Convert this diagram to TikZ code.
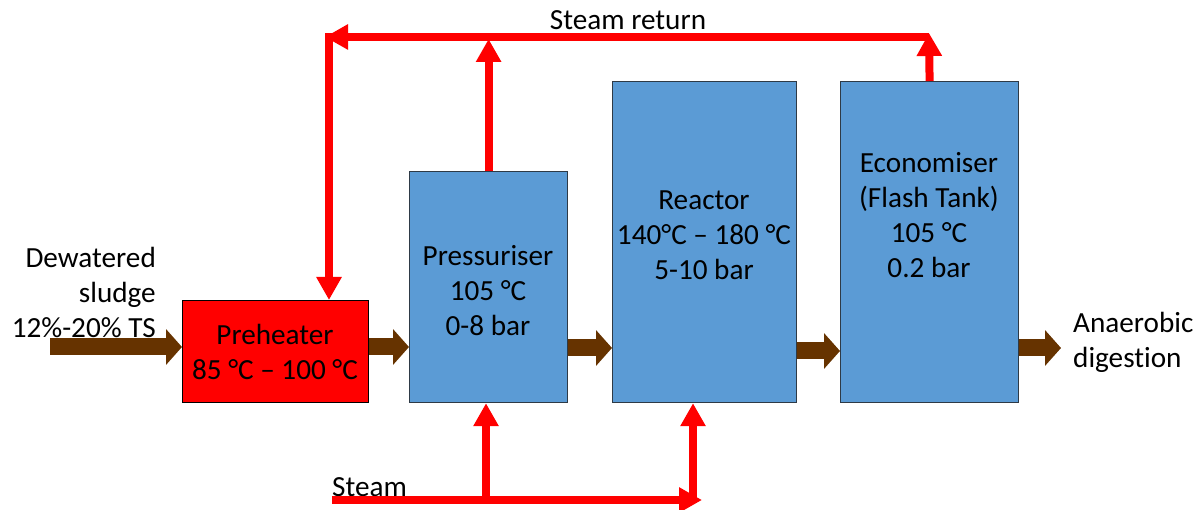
\documentclass[tikz,border=0pt]{standalone}
\usepackage{fontspec}
\setmainfont[Ligatures=NoCommon]{Carlito}
\usetikzlibrary{arrows.meta}
\definecolor{boxblue}{HTML}{5B9BD5}
\definecolor{boxedge}{HTML}{2E3A46}
\definecolor{sludge}{HTML}{663300}
\definecolor{steamred}{HTML}{FF0000}
\begin{document}
\begin{tikzpicture}[x=1pt,y=-1pt,
  unitbox/.style={draw=boxedge, line width=1.2pt, fill=boxblue, inner sep=0pt, anchor=north west},
  lbl/.style={inner sep=0pt, align=center, font=\fontsize{29.2}{35}\selectfont},
  sludgearrow/.style={draw=sludge, line width=17pt, -{Triangle[width=35pt,length=16pt]}},
  steamline/.style={draw=steamred, line width=8pt},
  steamarrow/.style={steamline, -{Triangle[width=24pt,length=23pt]}}]
\useasboundingbox (0,0) rectangle (1203,510);
% units
\node[unitbox, fill=steamred, draw=black, minimum width=186pt, minimum height=102pt] (pre) at (182,300) {};
\node[unitbox, minimum width=158pt, minimum height=231pt] (press) at (409,171) {};
\node[unitbox, minimum width=184pt, minimum height=321pt] (reac) at (612,81) {};
\node[unitbox, minimum width=178pt, minimum height=321pt] (econ) at (840,81) {};
% unit labels
\node[lbl] (pretxt) at (275,352) {Preheater\\85 °C – 100 °C};
\node[lbl] (presstxt) at (488,291) {Pressuriser\\105 °C\\0-8 bar};
\node[lbl] (reactxt) at (704,235) {Reactor\\140°C – 180 °C\\5-10 bar};
\node[lbl] (econtxt) at (929,215) {Economiser\\(Flash Tank)\\105 °C\\0.2 bar};
% free labels
\node[lbl, align=right, anchor=east] (feed) at (156,292) {Dewatered\\sludge\\12\%-20\% TS};
\node[lbl, align=left, anchor=west] (ad) at (1073,342) {Anaerobic\\digestion};
\node[lbl] (srlbl) at (628,20) {Steam return};
\node[lbl, anchor=west] (stlbl) at (332,487) {Steam};
% sludge flow
\coordinate (in) at (50,347);
\coordinate (out) at (1061,348);
\draw[sludgearrow] (in) -- (in -| pre.west);
\coordinate (a1) at (368,347);
\draw[sludgearrow] (a1 -| pre.east) -- (a1 -| press.west);
\coordinate (a2) at (569,348);
\draw[sludgearrow] (a2 -| press.east) -- (a2 -| reac.west);
\coordinate (a3) at (797,351);
\draw[sludgearrow] (a3 -| reac.east) -- (a3 -| econ.west);
\draw[sludgearrow] (out -| econ.east) -- (out);
% steam return
\coordinate (topL) at (325,37);
\coordinate (corner) at (329,33);
\coordinate (toptip) at (929,33);
\coordinate (topR) at (929,37);
\draw[steamarrow] (econ.north) -- (toptip);
\draw[steamarrow] (topR) -- (topL);
\draw[steamarrow] (press.north) -- (press.north |- 0,39);
\draw[steamarrow] (corner) -- (corner |- pre.north);
% live steam
\coordinate (stA) at (332,500);
\coordinate (stB) at (702,500);
\coordinate (brA) at (486,500);
\coordinate (brB) at (693,500);
\draw[steamarrow] (stA) -- (stB);
\draw[steamarrow] (brA) -- (brA |- press.south);
\draw[steamarrow] (brB) -- (brB |- reac.south);
\end{tikzpicture}
\end{document}
